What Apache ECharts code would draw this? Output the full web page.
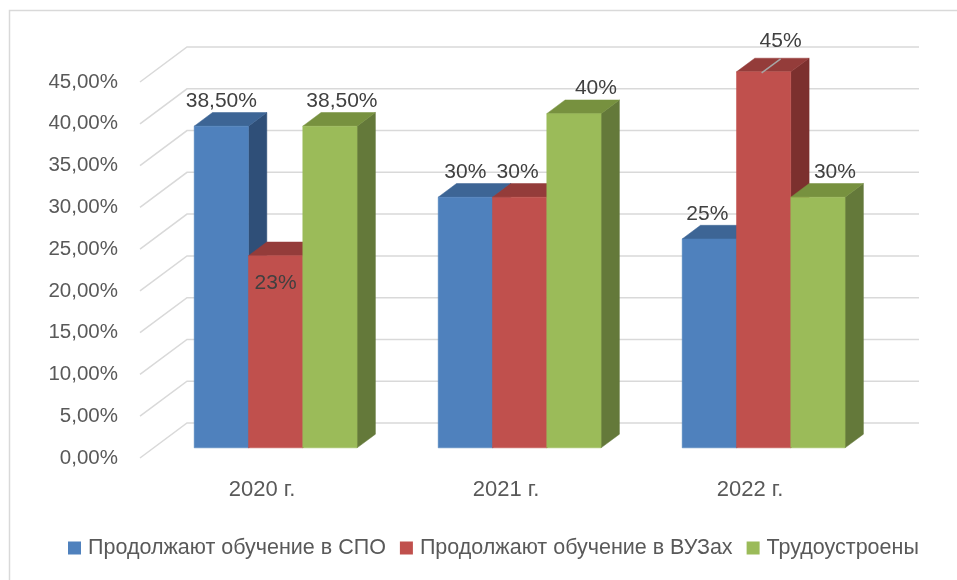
<!DOCTYPE html>
<html>
<head>
<meta charset="utf-8">
<script src="https://cdn.jsdelivr.net/npm/echarts@6/dist/echarts.min.js"></script>
<style>
html,body{margin:0;padding:0;background:#fff;}
#chart{width:957px;height:580px;}
</style>
</head>
<body>
<div id="chart"></div>
<script>
//категории и значения
var years = ['2020 г.', '2021 г.', '2022 г.'];
var seriesNames = ['Продолжают обучение в СПО', 'Продолжают обучение в ВУЗах', 'Трудоустроены'];
var spoValues = [38.5, 30, 25];
var vuzValues = [23, 30, 45];
var jobValues = [38.5, 40, 30];
var yTicks = [0, 5, 10, 15, 20, 25, 30, 35, 40, 45];

//цвета граней: передняя, верх, бок
var frontColors = ['#4f81bd', '#c0504d', '#9bbb59'];
var topColors = ['#3d6595', '#943c3a', '#77913f'];
var sideColors = ['#2f4f78', '#7c302e', '#64793a'];

//глубина 3D (смещение задней стенки)
var DX = 47, DY = -35;
var F0 = 0.29, FD = 0.39;

//сдвиг подписей [серия][категория] -> [dx, dy]
var labelShift = [
    [[0, 0], [0, 0], [-2, 0]],
    [[0, 53], [-2, 0], [17, -6]],
    [[12, 0], [22, 0], [17, 0]]
];

function fmtLabel(v) {
    if (Math.round(v) === v) return v + '%';
    return v.toFixed(2).replace('.', ',') + '%';
}

function wallItem(params, api) {
    var v = api.value(1);
    var bandW = api.size([1, 0])[0];
    var p0 = api.coord([0, v]);
    var p2 = api.coord([2, v]);
    var left = p0[0] - bandW / 2;
    var right = p2[0] + bandW / 2;
    var y = p0[1];
    return {
        type: 'polyline',
        shape: { points: [[left, y], [left + DX, y + DY], [right + DX, y + DY]] },
        style: { stroke: '#d9d9d9', lineWidth: 1.5, fill: null }
    };
}

function makeBarItem(k) {
    return function (params, api) {
        var cat = api.value(0);
        var val = api.value(1);
        var bandW = api.size([1, 0])[0];
        var barW = bandW * 0.2225;
        var c = api.coord([cat, val]);
        var b = api.coord([cat, 0]);
        var x0 = c[0] - 1.5 * barW + k * barW + F0 * DX;
        var yTop = c[1] + F0 * DY;
        var yBot = b[1] + F0 * DY;
        var sx = FD * DX, sy = FD * DY;
        var sh = labelShift[k][cat];
        var lx = x0 + barW / 2 + sh[0];
        var ly = yTop - 25 + sh[1];
        var children = [
            {
                type: 'polygon',
                shape: { points: [[x0 + barW, yTop], [x0 + barW + sx, yTop + sy], [x0 + barW + sx, yBot + sy], [x0 + barW, yBot]] },
                style: { fill: sideColors[k], stroke: sideColors[k], lineWidth: 0.5 }
            },
            {
                type: 'polygon',
                shape: { points: [[x0, yTop], [x0 + barW, yTop], [x0 + barW + sx, yTop + sy], [x0 + sx, yTop + sy]] },
                style: { fill: topColors[k], stroke: topColors[k], lineWidth: 0.5 }
            },
            {
                type: 'rect',
                shape: { x: x0, y: yTop, width: barW, height: yBot - yTop },
                style: { fill: frontColors[k], stroke: frontColors[k], lineWidth: 0.5 }
            }
        ];
        //линия-выноска для смещённой подписи
        if (sh[1] < 0) {
            children.push({
                type: 'line',
                shape: { x1: x0 + barW / 2 - 2, y1: yTop + 1, x2: lx, y2: ly + 18 },
                style: { stroke: '#a6a6a6', lineWidth: 1.5 }
            });
        }
        children.push({
            type: 'text',
            x: lx,
            y: ly,
            style: {
                text: fmtLabel(val),
                fontSize: 21,
                fontFamily: 'Liberation Sans, Arial, sans-serif',
                fill: '#404040',
                align: 'center',
                verticalAlign: 'middle'
            }
        });
        return { type: 'group', children: children };
    };
}

var valueLists = [spoValues, vuzValues, jobValues];
var barSeries = [];
for (var k = 0; k < 3; k++) {
    barSeries.push({
        name: seriesNames[k],
        type: 'custom',
        clip: false,
        renderItem: makeBarItem(k),
        itemStyle: { color: frontColors[k] },
        encode: { x: 0, y: 1 },
        data: valueLists[k].map(function (v, i) { return [i, v]; })
    });
}

var myChart = echarts.init(document.getElementById('chart'));
var option = {
    animation: false,
    backgroundColor: '#fff',
    textStyle: { fontFamily: 'Liberation Sans, Arial, sans-serif' },
    graphic: [{
        type: 'rect',
        shape: { x: 9.5, y: 10.5, width: 1200, height: 1200 },
        style: { fill: null, stroke: '#d9d9d9', lineWidth: 1.5 },
        silent: true
    }],
    grid: { left: 140, right: 85, top: 82, bottom: 122 },
    xAxis: {
        type: 'category',
        data: years,
        axisLine: { show: false },
        axisTick: { show: false },
        axisLabel: { fontSize: 22, color: '#595959', margin: 21 }
    },
    yAxis: {
        type: 'value',
        min: 0,
        max: 45,
        interval: 5,
        axisLine: { show: false },
        axisTick: { show: false },
        splitLine: { show: false },
        axisLabel: {
            fontSize: 20.5,
            color: '#595959',
            margin: 22,
            formatter: function (v) { return v.toFixed(2).replace('.', ',') + '%'; }
        }
    },
    legend: {
        left: 68,
        top: 537,
        padding: 0,
        itemWidth: 13,
        itemHeight: 13,
        itemGap: 14,
        icon: 'rect',
        textStyle: { fontSize: 21.5, color: '#595959', padding: [0, 0, 0, 2] },
        data: seriesNames
    },
    series: [{
        type: 'custom',
        clip: false,
        silent: true,
        renderItem: wallItem,
        encode: { x: 0, y: 1 },
        data: yTicks.map(function (v) { return [0, v]; }),
        z: 1
    }].concat(barSeries)
};
myChart.setOption(option);
</script>
</body>
</html>
